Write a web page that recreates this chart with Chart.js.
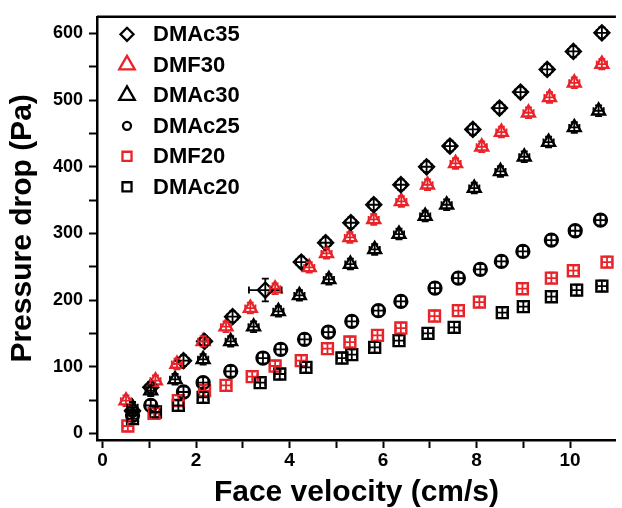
<!DOCTYPE html>
<html lang="en">
<head>
    <meta charset="UTF-8">
    <title>Pressure drop vs face velocity</title>
    <script src="https://cdn.jsdelivr.net/npm/chart.js"></script>
    <style>
        html, body {
            margin: 0;
            padding: 0;
            background: #fff;
            overflow: hidden;
        }
        #chart {
            display: block;
        }
    </style>
</head>
<body>
    <canvas id="chart" width="626" height="508"></canvas>

    <script>
        // Series (x = face velocity cm/s, y = pressure drop Pa)
        const dmac35X = [0.64, 1.03, 1.73, 2.18, 2.78, 3.48, 4.25, 4.77, 5.31, 5.80, 6.38, 6.93, 7.43, 7.92, 8.49, 8.94, 9.51, 10.07, 10.68];
        const dmac35Y = [34, 69, 109, 138, 175, 215, 257, 286, 316, 343, 373, 400, 431, 456, 488, 512, 546, 573, 601];

        const dmf30X = [0.50, 1.13, 1.59, 2.15, 2.64, 3.16, 3.69, 4.42, 4.79, 5.29, 5.80, 6.39, 6.95, 7.55, 8.11, 8.53, 9.11, 9.56, 10.09, 10.68];
        const dmf30Y = [49, 79, 104, 138, 160, 188, 217, 249, 270, 294, 321, 348, 373, 405, 430, 452, 481, 504, 526, 554];

        const dmac30X = [0.64, 1.03, 1.55, 2.15, 2.74, 3.23, 3.76, 4.21, 4.84, 5.30, 5.82, 6.34, 6.90, 7.36, 7.95, 8.51, 9.02, 9.54, 10.09, 10.61];
        const dmac30Y = [39, 64, 81, 111, 138, 160, 183, 207, 231, 254, 276, 299, 326, 343, 368, 393, 415, 437, 459, 484];

        const dmac25X = [0.64, 1.03, 1.73, 2.15, 2.74, 3.43, 3.81, 4.32, 4.83, 5.33, 5.90, 6.38, 7.11, 7.61, 8.08, 8.53, 8.99, 9.60, 10.11, 10.65];
        const dmac25Y = [27, 42, 62, 76, 93, 113, 126, 141, 152, 168, 184, 198, 218, 233, 246, 258, 273, 290, 304, 320];

        const dmf20X = [0.54, 1.10, 1.62, 2.18, 2.64, 3.20, 3.69, 4.25, 4.81, 5.29, 5.88, 6.38, 7.10, 7.61, 8.06, 8.98, 9.60, 10.07, 10.79];
        const dmf20Y = [11, 30, 49, 64, 72, 85, 101, 109, 127, 137, 147, 158, 176, 184, 197, 217, 233, 244, 257];

        const dmac20X = [0.64, 1.13, 1.62, 2.15, 3.37, 3.79, 4.35, 5.12, 5.33, 5.82, 6.34, 6.96, 7.52, 8.55, 9.00, 9.60, 10.14, 10.68];
        const dmac20Y = [22, 32, 42, 54, 76, 89, 99, 113, 118, 129, 139, 150, 159, 181, 190, 205, 215, 221];

        // error bars: usual size, plus the one wide point of DMAc35
        const X_ERR = 0.11;
        const Y_ERR = 8;
        const dmac35XErr = [0.11, 0.11, 0.11, 0.11, 0.11, 0.35, 0.11, 0.11, 0.11, 0.11, 0.11, 0.11, 0.11, 0.11, 0.11, 0.11, 0.11, 0.11, 0.11];
        const dmac35YErr = [8, 8, 8, 8, 8, 17, 8, 8, 8, 8, 8, 8, 8, 8, 8, 8, 8, 8, 8];

        // labelled ticks, and all tick marks (labelled + minor)
        const xTicks = [0, 2, 4, 6, 8, 10];
        const xTickMarks = [0, 1, 2, 3, 4, 5, 6, 7, 8, 9, 10];
        const yTicks = [0, 100, 200, 300, 400, 500, 600];
        const yTickMarks = [0, 50, 100, 150, 200, 250, 300, 350, 400, 450, 500, 550, 600];

        const RED = '#e8242a';
        const BLACK = '#000000';
        const FONT = "'Liberation Sans', Arial, sans-serif";

        function pts(xs, ys) {
            return xs.map((x, i) => ({ x: x, y: ys[i] }));
        }

        function series(label, xs, ys, style, color, radius, legendRadius, extra) {
            return Object.assign({
                label: label,
                data: pts(xs, ys),
                showLine: false,
                pointStyle: style,
                pointRadius: radius,
                pointHoverRadius: radius,
                pointBorderWidth: 2.3,
                borderColor: color,
                backgroundColor: 'rgba(0,0,0,0)',
                pointBackgroundColor: 'rgba(0,0,0,0)',
                legendRadius: legendRadius
            }, extra || {});
        }

        const datasets = [
            series('DMAc35', dmac35X, dmac35Y, 'rectRot', BLACK, 7.5, 6.5, { xErr: dmac35XErr, yErr: dmac35YErr }),
            series('DMF30', dmf30X, dmf30Y, 'triangle', RED, 7.5, 9),
            series('DMAc30', dmac30X, dmac30Y, 'triangle', BLACK, 7.5, 9),
            series('DMAc25', dmac25X, dmac25Y, 'circle', BLACK, 6.5, 4),
            series('DMF20', dmf20X, dmf20Y, 'rect', RED, 7.8, 6.4),
            series('DMAc20', dmac20X, dmac20Y, 'rect', BLACK, 7.8, 6.4)
        ];

        // small error crosses with caps on every point
        const errorBars = {
            id: 'errorBars',
            afterDatasetsDraw(chart) {
                const ctx = chart.ctx;
                const xs = chart.scales.x, ys = chart.scales.y;
                const cap = 3.5;
                chart.data.datasets.forEach(ds => {
                    ctx.save();
                    ctx.strokeStyle = ds.borderColor;
                    ctx.lineWidth = 1.8;
                    ds.data.forEach((p, i) => {
                        const ex = ds.xErr ? ds.xErr[i] : X_ERR;
                        const ey = ds.yErr ? ds.yErr[i] : Y_ERR;
                        const px = xs.getPixelForValue(p.x), py = ys.getPixelForValue(p.y);
                        const x0 = xs.getPixelForValue(p.x - ex), x1 = xs.getPixelForValue(p.x + ex);
                        const y0 = ys.getPixelForValue(p.y - ey), y1 = ys.getPixelForValue(p.y + ey);
                        ctx.beginPath();
                        ctx.moveTo(x0, py); ctx.lineTo(x1, py);
                        ctx.moveTo(px, y0); ctx.lineTo(px, y1);
                        ctx.moveTo(x0, py - cap); ctx.lineTo(x0, py + cap);
                        ctx.moveTo(x1, py - cap); ctx.lineTo(x1, py + cap);
                        ctx.moveTo(px - cap, y0); ctx.lineTo(px + cap, y0);
                        ctx.moveTo(px - cap, y1); ctx.lineTo(px + cap, y1);
                        ctx.stroke();
                    });
                    ctx.restore();
                });
            }
        };

        // legend inside the plot, top left, plus the top frame line
        const insideLegend = {
            id: 'insideLegend',
            afterDraw(chart) {
                const ctx = chart.ctx;
                const area = chart.chartArea;
                ctx.save();
                ctx.strokeStyle = BLACK;
                ctx.lineWidth = 2.5;
                ctx.beginPath();
                ctx.moveTo(area.left, area.top);
                ctx.lineTo(area.right, area.top);
                ctx.stroke();

                const markerX = 127, textX = 153, startY = 34.3, rowH = 30.5;
                chart.data.datasets.forEach((ds, i) => {
                    const y = startY + i * rowH;
                    ctx.strokeStyle = ds.borderColor;
                    ctx.fillStyle = 'rgba(0,0,0,0)';
                    ctx.lineWidth = 2.3;
                    Chart.helpers.drawPoint(ctx, {
                        pointStyle: ds.pointStyle,
                        radius: ds.legendRadius,
                        borderWidth: 2.3,
                        rotation: 0
                    }, markerX, y);
                    ctx.fillStyle = BLACK;
                    ctx.font = 'bold 22px ' + FONT;
                    ctx.textBaseline = 'middle';
                    ctx.textAlign = 'left';
                    ctx.fillText(ds.label, textX, y + 1);
                });
                ctx.restore();
            }
        };

        const tickGrid = {
            display: true,
            drawOnChartArea: false,
            drawTicks: true,
            tickLength: 8,
            tickColor: BLACK,
            tickWidth: 2
        };

        new Chart(document.getElementById('chart').getContext('2d'), {
            type: 'scatter',
            data: { datasets: datasets },
            options: {
                responsive: false,
                animation: false,
                layout: { padding: { top: 12, left: 0, right: 0, bottom: 0 } },
                plugins: {
                    legend: { display: false },
                    tooltip: { enabled: false }
                },
                scales: {
                    x: {
                        type: 'linear',
                        position: 'bottom',
                        min: -0.12,
                        max: 10.98,
                        afterFit: s => { s.height = 68; },
                        afterBuildTicks: s => { s.ticks = xTickMarks.map(v => ({ value: v })); },
                        ticks: {
                            autoSkip: false,
                            maxRotation: 0,
                            padding: 1,
                            color: BLACK,
                            font: { family: FONT, size: 19, weight: 'bold', lineHeight: 1.2 },
                            callback: v => xTicks.includes(v) ? String(v) : ''
                        },
                        grid: tickGrid,
                        border: { display: true, color: BLACK, width: 2.5 },
                        title: {
                            display: true,
                            text: 'Face velocity (cm/s)',
                            color: BLACK,
                            padding: { top: 0, bottom: 0 },
                            font: { family: FONT, size: 30, weight: 'bold', lineHeight: 1 }
                        }
                    },
                    y: {
                        type: 'linear',
                        position: 'left',
                        min: -10,
                        max: 625,
                        afterFit: s => { s.width = 97; },
                        afterBuildTicks: s => { s.ticks = yTickMarks.map(v => ({ value: v })); },
                        ticks: {
                            autoSkip: false,
                            padding: 6,
                            color: BLACK,
                            font: { family: FONT, size: 18, weight: 'bold' },
                            callback: v => yTicks.includes(v) ? String(v) : ''
                        },
                        grid: tickGrid,
                        border: { display: true, color: BLACK, width: 2.5 },
                        title: {
                            display: true,
                            text: 'Pressure drop (Pa)',
                            color: BLACK,
                            padding: { top: 8, bottom: 0 },
                            font: { family: FONT, size: 30, weight: 'bold', lineHeight: 1 }
                        }
                    }
                }
            },
            plugins: [errorBars, insideLegend]
        });
    </script>
</body>
</html>
